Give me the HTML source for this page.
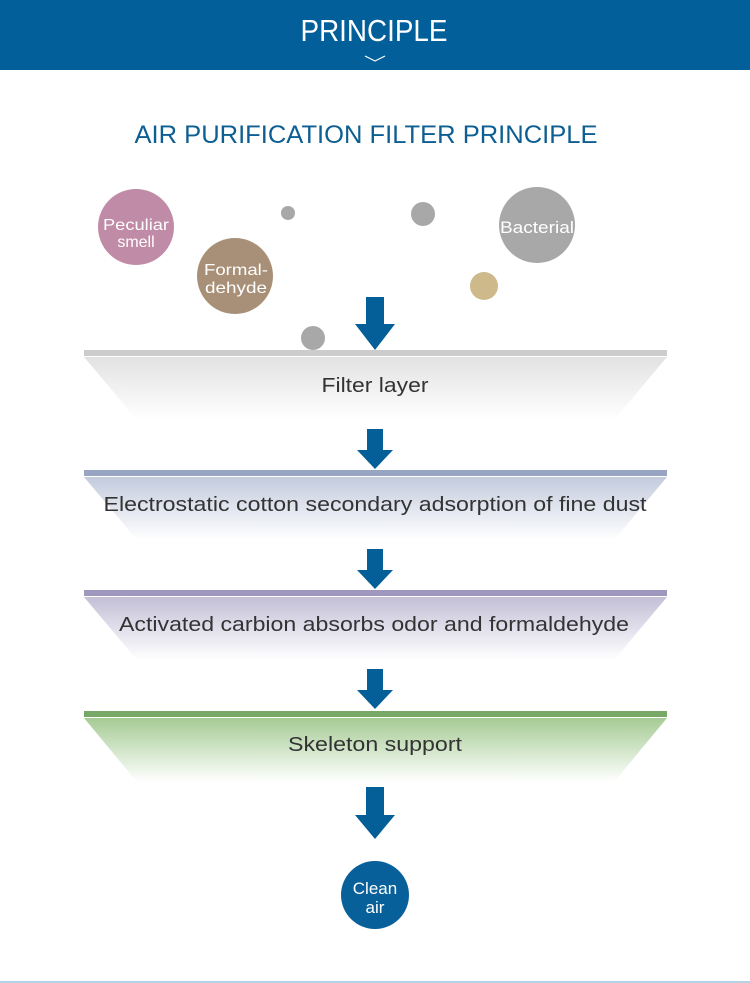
<!DOCTYPE html>
<html><head><meta charset="utf-8"><style>
html,body{margin:0;padding:0;background:#fff;width:750px;height:983px;overflow:hidden}
svg{display:block;font-family:"Liberation Sans",sans-serif}
</style></head><body>
<svg width="750" height="983" viewBox="0 0 750 983" xmlns="http://www.w3.org/2000/svg">
<defs>
<linearGradient id="g1" x1="0" y1="0" x2="0" y2="1"><stop offset="0" stop-color="#e2e2e2"/><stop offset="1" stop-color="#ffffff"/></linearGradient>
<linearGradient id="g2" x1="0" y1="0" x2="0" y2="1"><stop offset="0" stop-color="#c3cbdd"/><stop offset="1" stop-color="#ffffff"/></linearGradient>
<linearGradient id="g3" x1="0" y1="0" x2="0" y2="1"><stop offset="0" stop-color="#c3bfd6"/><stop offset="1" stop-color="#ffffff"/></linearGradient>
<linearGradient id="g4" x1="0" y1="0" x2="0" y2="1"><stop offset="0" stop-color="#a5cb94"/><stop offset="1" stop-color="#ffffff"/></linearGradient>
</defs>
<rect x="0" y="0" width="750" height="70" fill="#035f99"/>
<text x="374" y="41" text-anchor="middle" fill="#fff" font-size="31" textLength="147" lengthAdjust="spacingAndGlyphs">PRINCIPLE</text>
<polyline points="365,56 375,61 385,56" fill="none" stroke="#fff" stroke-width="1.2"/>
<text x="366" y="143" text-anchor="middle" fill="#0d5e92" font-size="25" textLength="463" lengthAdjust="spacingAndGlyphs">AIR PURIFICATION FILTER PRINCIPLE</text>

<circle cx="136" cy="227" r="38" fill="#c08ba6"/>
<text x="136" y="230" text-anchor="middle" fill="#fff" font-size="16" textLength="66" lengthAdjust="spacingAndGlyphs">Peculiar</text>
<text x="136" y="247" text-anchor="middle" fill="#fff" font-size="16">smell</text>
<circle cx="235" cy="276" r="38" fill="#a89078"/>
<text x="236" y="275" text-anchor="middle" fill="#fff" font-size="16" textLength="64" lengthAdjust="spacingAndGlyphs">Formal-</text>
<text x="236" y="293" text-anchor="middle" fill="#fff" font-size="16" textLength="62" lengthAdjust="spacingAndGlyphs">dehyde</text>
<circle cx="288" cy="213" r="7" fill="#a8a8a8"/>
<circle cx="423" cy="214" r="12" fill="#a8a8a8"/>
<circle cx="537" cy="225" r="38" fill="#a8a8a8"/>
<text x="537" y="233" text-anchor="middle" fill="#fff" font-size="17" textLength="74" lengthAdjust="spacingAndGlyphs">Bacterial</text>
<circle cx="484" cy="286" r="14" fill="#cdb98a"/>
<circle cx="313" cy="338" r="12" fill="#a8a8a8"/>

<g fill="#045f99">
<polygon points="366,297 384,297 384,324 395,324 375,350 355,324 366,324"/>
<polygon points="367,429 383,429 383,450 393,450 375,469 357,450 367,450"/>
<polygon points="367,549 383,549 383,570 393,570 375,589 357,570 367,570"/>
<polygon points="367,669 383,669 383,690 393,690 375,709 357,690 367,690"/>
<polygon points="366,787 384,787 384,815 395,815 375,839 355,815 366,815"/>
</g>

<rect x="84" y="350" width="583" height="6" fill="#cccccc"/>
<polygon points="84,357 667,357 614,420 137,420" fill="url(#g1)"/>
<text x="375" y="392" text-anchor="middle" fill="#333" font-size="20" textLength="107" lengthAdjust="spacingAndGlyphs">Filter layer</text>

<rect x="84" y="470" width="583" height="6" fill="#97a5c3"/>
<polygon points="84,477 667,477 614,540 137,540" fill="url(#g2)"/>
<text x="375" y="511" text-anchor="middle" fill="#333" font-size="20" textLength="543" lengthAdjust="spacingAndGlyphs">Electrostatic cotton secondary adsorption of fine dust</text>

<rect x="84" y="590" width="583" height="6" fill="#9f97bd"/>
<polygon points="84,597 667,597 614,660 137,660" fill="url(#g3)"/>
<text x="374" y="631" text-anchor="middle" fill="#333" font-size="20" textLength="510" lengthAdjust="spacingAndGlyphs">Activated carbion absorbs odor and formaldehyde</text>

<rect x="84" y="711" width="583" height="6" fill="#78a866"/>
<polygon points="84,718 667,718 614,782 137,782" fill="url(#g4)"/>
<text x="375" y="751" text-anchor="middle" fill="#333" font-size="20" textLength="174" lengthAdjust="spacingAndGlyphs">Skeleton support</text>

<ellipse cx="375" cy="895" rx="34" ry="34" fill="#07609a"/>
<text x="375" y="894" text-anchor="middle" fill="#fff" font-size="17">Clean</text>
<text x="375" y="913" text-anchor="middle" fill="#fff" font-size="17">air</text>

<rect x="0" y="981" width="750" height="2" fill="#b3d3e6"/>
</svg>
</body></html>
